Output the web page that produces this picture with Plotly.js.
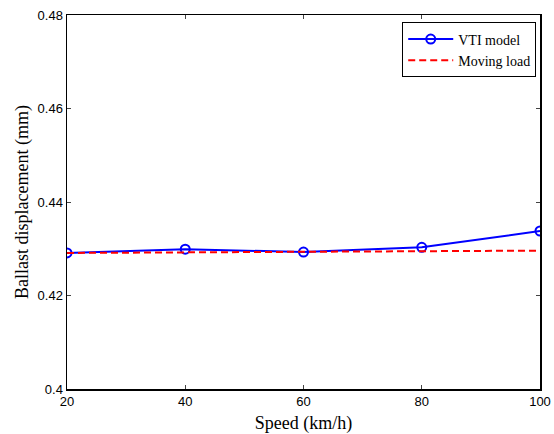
<!DOCTYPE html>
<html>
<head>
<meta charset="utf-8">
<script src="https://cdn.plot.ly/plotly-3.0.1.min.js"></script>
<style>body{margin:0;padding:0;background:#fff}#chart{width:554px;height:434px}</style>
</head>
<body>
<div id="chart"></div>
<script>
const speeds = [20, 40, 60, 80, 100];
const vtiModel = [0.4291, 0.4299, 0.4293, 0.4303, 0.4338];
const movingLoad = [0.4291, 0.4292, 0.4293, 0.4294, 0.4296];
const xTicks = [20, 40, 60, 80, 100];
const yTicks = [0.4, 0.42, 0.44, 0.46, 0.48];
const yTickText = ['0.4', '0.42', '0.44', '0.46', '0.48'];

const traces = [
  {x: speeds, y: vtiModel, name: 'VTI model', mode: 'lines+markers', type: 'scatter',
   line: {color: '#0000ff', width: 2},
   marker: {symbol: 'circle-open', size: 9, color: '#0000ff', line: {width: 2}}},
  {x: speeds, y: movingLoad, name: 'Moving load', mode: 'lines', type: 'scatter',
   line: {color: '#ff0000', width: 2, dash: '7px,4px'}}
];

const layout = {
  width: 554, height: 434,
  margin: {l: 67, r: 14, t: 15, b: 45},
  paper_bgcolor: '#fff', plot_bgcolor: '#fff',
  showlegend: true,
  legend: {x: 0.992, y: 0.98, xanchor: 'right', yanchor: 'top',
    bordercolor: '#000', borderwidth: 1, bgcolor: '#fff',
    itemwidth: 45,
    font: {family: 'Liberation Serif, Times New Roman, serif', size: 14, color: '#000'},
    tracegroupgap: 0},
  xaxis: {range: [20, 100], tickvals: xTicks, ticks: 'inside', ticklen: 4,
    showline: true, mirror: 'ticks', linecolor: '#000', linewidth: 1.5,
    showgrid: false, zeroline: false,
    tickfont: {family: 'Liberation Sans, Arial, sans-serif', size: 13, color: '#000'},
    title: {text: 'Speed (km/h)', standoff: 8,
      font: {family: 'Liberation Serif, Times New Roman, serif', size: 18, color: '#000'}}},
  yaxis: {range: [0.4, 0.48], tickvals: yTicks, ticktext: yTickText, ticks: 'inside', ticklen: 4,
    showline: true, mirror: 'ticks', linecolor: '#000', linewidth: 1.5,
    showgrid: false, zeroline: false,
    tickfont: {family: 'Liberation Sans, Arial, sans-serif', size: 13, color: '#000'},
    title: {text: 'Ballast displacement (mm)', standoff: 4,
      font: {family: 'Liberation Serif, Times New Roman, serif', size: 18, color: '#000'}}}
};

Plotly.newPlot('chart', traces, layout, {displayModeBar: false, staticPlot: true});
</script>
</body>
</html>
